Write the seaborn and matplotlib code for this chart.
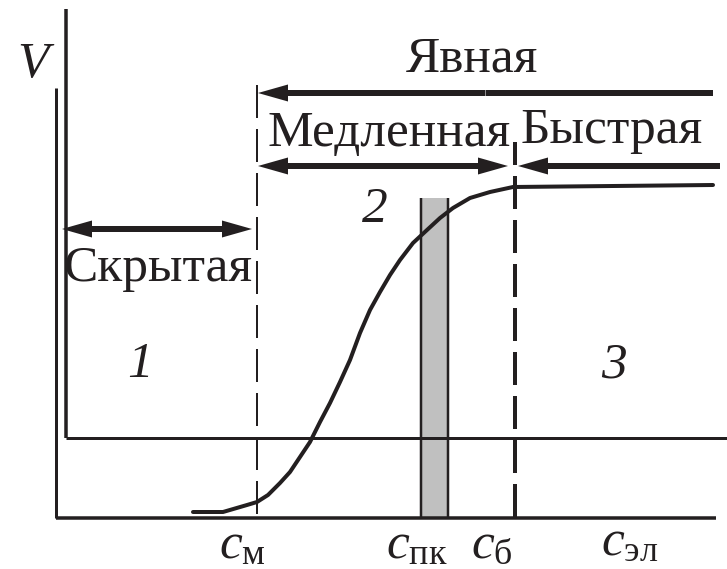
import numpy as np
import pandas as pd
import matplotlib
matplotlib.use("Agg")
import matplotlib.pyplot as plt
import seaborn as sns

# Diagram units: 1 unit = 1 pixel, origin at the outer axis corner
INK = "#231f20"

# V(c) curve
curve_c = [137, 167, 191, 201, 212, 224, 234, 244, 254, 264, 274, 284, 294,
           304, 314, 324, 334, 344, 357, 371, 384, 397, 414, 434, 457, 657]
curve_v = [6, 6, 13, 16, 23, 35, 46, 61, 76, 96, 115, 136, 158,
           185, 208, 226, 243, 258, 275, 288, 300, 310, 320, 326, 331, 333]

# characteristic concentrations
c_m = 201          # c_м
c_pk = [365, 392]  # c_пк band
c_pk_top = 320
c_b = 459          # c_б

# regime labels
region_numbers = ["1", "2", "3"]
region_names = ["Скрытая", "Медленная", "Быстрая", "Явная"]
tick_subs = ["м", "пк", "б", "эл"]

sns.set_theme(style="white")
plt.rcParams["font.family"] = ["Liberation Serif", "DejaVu Serif"]
plt.rcParams["lines.scale_dashes"] = False
plt.rcParams["mathtext.fontset"] = "custom"
plt.rcParams["mathtext.rm"] = "Liberation Serif"
plt.rcParams["mathtext.it"] = "Liberation Serif:italic"

fig = plt.figure(figsize=(7.27, 5.69), dpi=100)
ax = fig.add_axes([0, 0, 1, 1])
ax.set_xlim(-56, 671)
ax.set_ylim(-51, 518)
ax.set_axis_off()

px = 72 / 100  # points per pixel

# outer and inner axes
ax.plot([0, 0], [0, 430], color=INK, linewidth=3 * px, solid_capstyle="butt")
ax.plot([0, 660], [0, 0], color=INK, linewidth=3.5 * px, solid_capstyle="butt")
ax.plot([10, 10], [80, 509], color=INK, linewidth=3.5 * px, solid_capstyle="butt")
ax.plot([10, 671], [80, 80], color=INK, linewidth=3 * px, solid_capstyle="butt")

# c_пк band
ax.fill_between(c_pk, 0, c_pk_top, color="#c0c0c0", lw=0)
for xb in c_pk:
    ax.plot([xb, xb], [0, c_pk_top], color=INK, linewidth=2.5 * px, solid_capstyle="butt")

# dashed markers
dash = (33 * px, 11 * px)
ax.plot([c_m, c_m], [433, 0], color=INK, linewidth=2 * px, linestyle=(0, dash))
ax.plot([c_b, c_b], [376, 0], color=INK, linewidth=4 * px, linestyle=(10 * px, dash))

# curve
df = pd.DataFrame({"c": curve_c, "V": curve_v})
sns.lineplot(data=df, x="c", y="V", ax=ax, color=INK, linewidth=4 * px, sort=False)


def arrow(x0, x1, y, left=True, right=True):
    kw = dict(width=6, head_width=17, head_length=30, length_includes_head=True,
              color=INK, lw=0)
    mid = (x0 + x1) / 2
    if left:
        ax.arrow(mid, y, x0 - mid, 0, **kw)
    else:
        ax.plot([x0, mid], [y, y], color=INK, linewidth=6 * px, solid_capstyle="butt")
    if right:
        ax.arrow(mid, y, x1 - mid, 0, **kw)
    else:
        ax.plot([mid, x1], [y, y], color=INK, linewidth=6 * px, solid_capstyle="butt")


arrow(6, 196, 289)
arrow(202, 452, 352)
arrow(462, 664, 352, right=False)
arrow(202, 657, 425, right=False)

fs = 37
ax.text(102, 237, region_names[0], fontsize=fs, ha="center", va="baseline", color=INK)
ax.text(333, 372, region_names[1], fontsize=fs, ha="center", va="baseline", color=INK)
ax.text(556, 375, region_names[2], fontsize=fs, ha="center", va="baseline", color=INK)
ax.text(416, 447, region_names[3], fontsize=fs, ha="center", va="baseline", color=INK)

ax.text(-23, 441, "V", fontsize=fs, style="italic", ha="center", va="baseline", color=INK)
for lab, (xn, yn) in zip(region_numbers, [(84, 141), (319, 296), (558, 141)]):
    ax.text(xn, yn, lab, fontsize=fs, style="italic", ha="center", va="baseline", color=INK)

# x labels: italic c with roman subscript
for sub, (xc, yc) in zip(tick_subs, [(163, -40), (330, -40), (415, -40), (545, -37)]):
    ax.text(xc, yc, r"$\mathit{c}_{\mathrm{" + sub + "}}$", fontsize=fs,
            ha="left", va="baseline", color=INK)

fig.savefig("out.png", dpi=100)
